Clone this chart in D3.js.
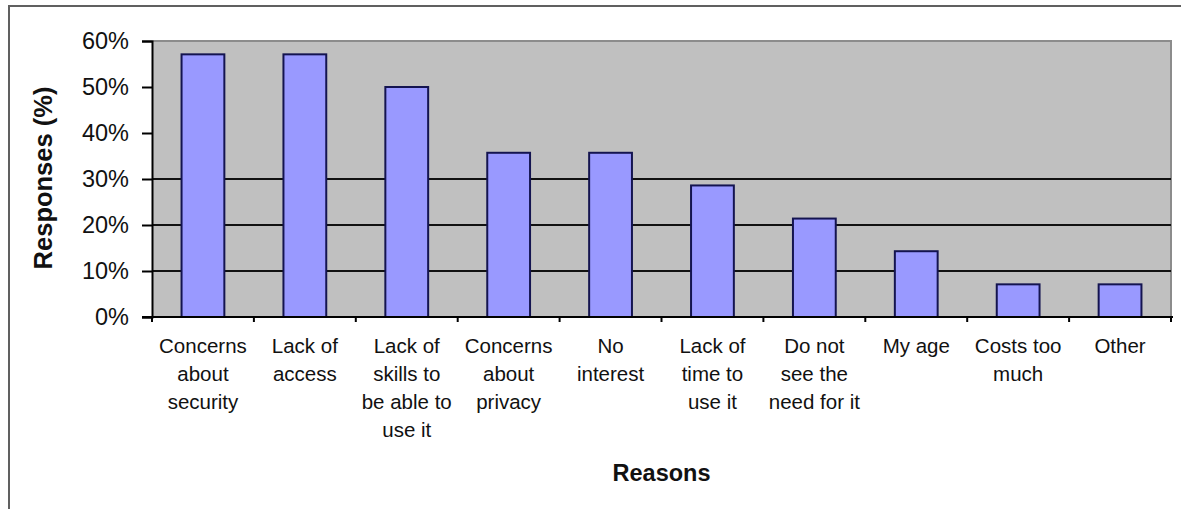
<!DOCTYPE html>
<html>
<head>
<meta charset="utf-8">
<script src="https://cdn.jsdelivr.net/npm/d3@7"></script>
<style>
  html, body { margin: 0; padding: 0; background: #fff; }
  svg { display: block; font-family: "Liberation Sans", Arial, sans-serif; }
</style>
</head>
<body>
<svg id="chart" width="1181" height="509"></svg>
<script>
const categories = [
  ["Concerns", "about", "security"],
  ["Lack of", "access"],
  ["Lack of", "skills to", "be able to", "use it"],
  ["Concerns", "about", "privacy"],
  ["No", "interest"],
  ["Lack of", "time to", "use it"],
  ["Do not", "see the", "need for it"],
  ["My age"],
  ["Costs too", "much"],
  ["Other"]
];
const values = [57.1, 57.1, 50.0, 35.7, 35.7, 28.6, 21.4, 14.3, 7.1, 7.1];
const yTicks = [0, 10, 20, 30, 40, 50, 60];
const gridValues = [10, 20, 30];
const xTitle = "Reasons";
const yTitle = "Responses (%)";

(function () {
const svg = d3.select("#chart");
const pLeft = 152, pRight = 1171, pTop = 41, pBottom = 317;

const ids = categories.map((c, i) => i);
const x = d3.scaleBand().domain(ids).range([pLeft, pRight]).paddingInner(0.58).paddingOuter(0.29);
const y = d3.scaleLinear().domain([0, 60]).range([pBottom, pTop]);

// outer frame (top and left only)
svg.append("path").attr("d", `M9,509 V6 H1181`).attr("fill", "none")
  .attr("stroke", "#606060").attr("stroke-width", 2);

// plot background
svg.append("rect").attr("x", pLeft).attr("y", pTop).attr("width", pRight - pLeft).attr("height", pBottom - pTop)
  .attr("fill", "#c0c0c0");
svg.append("path").attr("d", `M${pLeft},${pTop} H${pRight} V${pBottom}`).attr("fill", "none")
  .attr("stroke", "#8c8c8c").attr("stroke-width", 2);

// gridlines
svg.append("g").selectAll("line").data(gridValues).join("line")
  .attr("x1", pLeft).attr("x2", pRight)
  .attr("y1", d => y(d)).attr("y2", d => y(d))
  .attr("stroke", "#111").attr("stroke-width", 2);

// bars
svg.append("g").selectAll("rect").data(values).join("rect")
  .attr("x", (d, i) => x(i))
  .attr("y", d => y(d))
  .attr("width", x.bandwidth())
  .attr("height", d => y(0) - y(d))
  .attr("fill", "#9999ff")
  .attr("stroke", "#141450")
  .attr("stroke-width", 2);

// y axis
const yAxis = d3.axisLeft(y).tickValues(yTicks).tickFormat(d => d + "%").tickSize(10).tickPadding(13);
const gy = svg.append("g").attr("transform", `translate(${pLeft},0)`).call(yAxis);
gy.select(".domain").attr("stroke", "#000").attr("stroke-width", 2);
gy.selectAll(".tick line").attr("stroke", "#000").attr("stroke-width", 2);
gy.selectAll(".tick text").attr("font-size", 23.5).attr("fill", "#111")
  .attr("font-family", "'Liberation Sans', Arial, sans-serif");

// x axis (ticks at category boundaries)
svg.append("line").attr("x1", pLeft - 10).attr("x2", pRight + 2).attr("y1", pBottom).attr("y2", pBottom)
  .attr("stroke", "#000").attr("stroke-width", 2);
const step = x.step();
const boundaries = d3.range(categories.length + 1).map(i => pLeft + i * step);
svg.append("g").selectAll("line").data(boundaries).join("line")
  .attr("x1", d => d).attr("x2", d => d).attr("y1", pBottom).attr("y2", pBottom + 5)
  .attr("stroke", "#000").attr("stroke-width", 2);

// category labels
const lab = svg.append("g").attr("font-size", 20.5).attr("fill", "#111").attr("text-anchor", "middle");
categories.forEach((lines, i) => {
  const cx = x(i) + x.bandwidth() / 2;
  const t = lab.append("text").attr("x", cx).attr("y", 353);
  lines.forEach((ln, j) => {
    t.append("tspan").attr("x", cx).attr("dy", j === 0 ? 0 : 28).text(ln);
  });
});

// axis titles
svg.append("text").attr("x", (pLeft + pRight) / 2).attr("y", 481).attr("text-anchor", "middle")
  .attr("font-size", 23.5).attr("font-weight", "bold").attr("fill", "#111").text(xTitle);
svg.append("text").attr("transform", `translate(52,178) rotate(-90)`).attr("text-anchor", "middle")
  .attr("font-size", 25.5).attr("font-weight", "bold").attr("fill", "#111").text(yTitle);
})();
</script>
</body>
</html>
